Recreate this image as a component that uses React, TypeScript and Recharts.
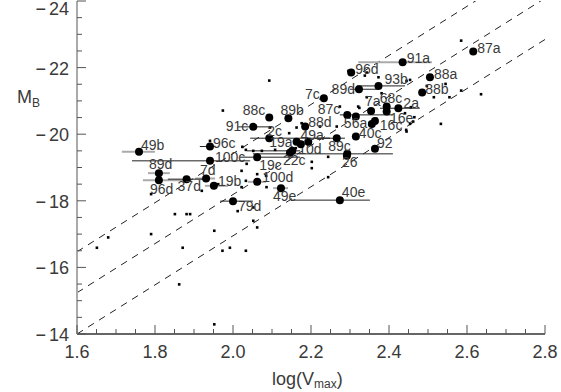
import { ScatterChart, Scatter, XAxis, YAxis, ReferenceLine } from "recharts"

// labelled galaxies: [label, log(Vmax), M_B]
const NAMED: [string, number, number][] = [
  ["49b", 1.759, -19.47],
  ["96c", 1.941, -19.63],
  ["100c", 1.941, -19.2],
  ["89d", 1.81, -18.83],
  ["96d", 1.81, -18.62],
  ["37d", 1.881, -18.65],
  ["7d", 1.931, -18.67],
  ["19b", 1.951, -18.45],
  ["79d", 2.0, -17.99],
  ["49e", 2.123, -18.38],
  ["40e", 2.274, -18.02],
  ["100d", 2.062, -18.57],
  ["19c", 2.062, -19.31],
  ["91c", 2.052, -20.22],
  ["2c", 2.093, -19.88],
  ["88c", 2.093, -20.5],
  ["89b", 2.142, -20.48],
  ["10d", 2.152, -19.5],
  ["22c", 2.146, -19.44],
  ["19a", 2.163, -19.77],
  ["", 2.174, -19.7],
  ["", 2.193, -19.77],
  ["88d", 2.185, -20.23],
  ["49a", 2.266, -19.88],
  ["40c", 2.315, -19.93],
  ["89c", 2.293, -19.41],
  ["26", 2.292, -19.35],
  ["92", 2.364, -19.56],
  ["7c", 2.233, -21.08],
  ["89d", 2.323, -21.35],
  ["96d", 2.303, -21.85],
  ["91a", 2.435, -22.16],
  ["93b", 2.373, -21.45],
  ["88a", 2.505, -21.71],
  ["88b", 2.485, -21.25],
  ["87a", 2.616, -22.48],
  ["2a", 2.424, -20.78],
  ["68c", 2.394, -20.83],
  ["", 2.394, -20.68],
  ["7a", 2.354, -20.7],
  ["87c", 2.293, -20.58],
  ["56a", 2.315, -20.53],
  ["16e", 2.364, -20.4],
  ["16c", 2.356, -20.31],
]

// where each label sits relative to its dot (same order as NAMED): [dx, dy, anchor]
const LABEL_PLACE: [number, number, string][] = [
  [2, -2, "start"], [3, 1, "start"], [5, 1, "start"], [-10, -4, "start"],
  [-9, 14, "start"], [-9, 12, "start"], [-6, -3, "start"], [4, 0, "start"],
  [5, 10, "start"], [-8, 13, "start"], [2, -3, "start"], [5, 0, "start"],
  [2, 13, "start"], [-5, 4, "end"], [-2, -2, "start"], [-4, -3, "end"],
  [-8, -3, "start"], [6, 3, "start"], [-7, 12, "start"], [-4, 5, "end"],
  [0, 0, "start"], [0, 0, "start"], [3, 0, "start"], [-13, 2, "end"],
  [3, 1, "start"], [-19, -3, "start"], [-5, 11, "start"], [2, -1, "start"],
  [-4, 1, "end"], [-4, 5, "end"], [4, 1, "start"], [4, 1, "start"],
  [6, -2, "start"], [4, 2, "start"], [3, 1, "start"], [4, 1, "start"],
  [5, 0, "start"], [-7, -4, "start"], [0, 0, "start"], [-6, -5, "start"],
  [-7, -1, "end"], [-12, 11, "start"], [15, 2, "start"], [8, 6, "start"],
]

// velocity ranges: [low, high, M_B]
const GRAY_BARS: [number, number, number][] = [
  [1.715, 1.8, -19.47],
  [1.782, 1.838, -18.83],
  [1.769, 1.882, -18.62],
  [1.903, 1.954, -18.67],
  [1.928, 1.987, -18.45],
  [2.103, 2.141, -18.38],
  [2.038, 2.085, -18.57],
  [2.321, 2.51, -22.16],
]

const BLACK_BARS: [number, number, number][] = [
  [1.915, 1.954, -19.63],
  [1.741, 2.044, -19.2],
  [1.833, 1.933, -18.65],
  [1.967, 2.051, -17.99],
  [2.149, 2.351, -18.02],
  [2.013, 2.1, -20.22],
  [2.044, 2.249, -19.88],
  [2.051, 2.41, -19.41],
  [2.018, 2.172, -19.31],
  [2.036, 2.172, -19.5],
  [2.318, 2.441, -21.45],
  [2.377, 2.479, -20.78],
  [2.274, 2.41, -20.58],
  [2.21, 2.287, -19.88],
  [2.3, 2.37, -21.35],
]

// unlabelled sample: [log(Vmax), M_B]
const FIELD: [number, number][] = [
  [1.651, -16.59], [1.68, -16.9], [1.851, -17.6], [1.881, -17.6], [1.89, -17.6],
  [1.79, -17.0], [1.952, -17.1], [2.012, -17.69], [2.052, -17.4], [2.062, -17.2],
  [1.871, -16.59], [1.973, -16.5], [1.992, -16.59], [2.033, -16.5], [1.862, -15.49],
  [1.952, -14.29], [1.79, -18.2], [1.941, -19.8], [2.024, -19.62], [2.033, -19.53],
  [2.022, -18.9], [2.033, -18.6], [1.92, -18.3], [1.962, -18.5], [2.052, -17.8],
  [2.022, -18.41], [1.974, -20.71], [2.035, -19.11], [2.074, -19.5], [2.062, -18.8],
  [2.085, -18.75], [2.095, -20.2], [2.163, -20.2], [2.161, -19.58], [2.108, -19.53],
  [2.086, -18.41], [2.144, -20.03], [2.052, -19.5], [2.144, -19.41], [2.202, -19.17],
  [2.202, -18.98], [2.244, -19.32], [2.244, -18.71], [2.176, -20.33], [2.223, -20.23],
  [2.266, -20.23], [2.321, -20.83], [2.368, -20.46], [2.441, -20.63], [2.454, -20.31],
  [2.445, -20.08], [2.462, -20.38], [2.093, -21.61], [2.343, -21.11], [2.274, -20.83],
  [2.324, -20.79], [2.381, -21.23], [2.373, -21.71], [2.296, -21.9], [2.343, -21.85],
  [2.585, -22.81], [2.454, -21.63], [2.545, -21.51], [2.515, -21.11], [2.555, -21.11],
  [2.585, -21.31], [2.636, -21.2], [2.497, -21.45], [2.456, -20.81], [2.465, -20.51],
  [2.533, -20.31], [2.444, -20.13], [2.338, -21.76], [2.445, -21.6],
]

// dashed relations: M_B at log V = 1.6, common slope
const LINE_ZERO = [-16.47, -15.24, -14.0]
const LINE_SLOPE = -7.37

const X_LABELS = [1.6, 1.8, 2.0, 2.2, 2.4, 2.6, 2.8]
const Y_LABELS = [-24, -22, -20, -18, -16, -14]
const X_TICKS = Array.from({ length: 25 }, (_, i) => +(1.6 + i * 0.05).toFixed(2))
const Y_TICKS = Array.from({ length: 21 }, (_, i) => -24 + i * 0.5)

const FONT = "'Liberation Sans', Arial, sans-serif"
const INK = "#3a3a3a"
const AXIS = "#555"

const namedData = NAMED.map(([name, x, y], i) => ({ name, x, y, place: LABEL_PLACE[i] }))
const fieldData = FIELD.map(([x, y]) => ({ x, y }))

const isLabelX = (v: number) => X_LABELS.some((l) => Math.abs(l - v) < 1e-6)
const isLabelY = (v: number) => Y_LABELS.some((l) => Math.abs(l - v) < 1e-6)

function BottomTick({ x, y, payload }: any) {
  const major = isLabelX(payload.value)
  return (
    <g>
      <line x1={x} x2={x} y1={y} y2={y - (major ? 9 : 5)} stroke={AXIS} />
      {major && (
        <text x={x} y={y + 24} textAnchor="middle" fontSize={18} fontFamily={FONT} fill={INK}>
          {payload.value.toFixed(1)}
        </text>
      )}
    </g>
  )
}

function TopTick({ x, y, payload }: any) {
  const major = isLabelX(payload.value)
  return <line x1={x} x2={x} y1={y} y2={y + (major ? 9 : 5)} stroke={AXIS} />
}

function LeftTick({ x, y, payload }: any) {
  const major = isLabelY(payload.value)
  return (
    <g>
      <line x1={x} x2={x + (major ? 9 : 5)} y1={y} y2={y} stroke={AXIS} />
      {major && (
        <text x={x - 8} y={Math.max(y + 7, 15)} textAnchor="end" fontSize={18} fontFamily={FONT} fill={INK}>
          <tspan>{"\u2212"}</tspan>
          <tspan dx={3}>{Math.abs(payload.value)}</tspan>
        </text>
      )}
    </g>
  )
}

function RightTick({ x, y, payload }: any) {
  const major = isLabelY(payload.value)
  return <line x1={x} x2={x - (major ? 9 : 5)} y1={y} y2={y} stroke={AXIS} />
}

function Galaxy({ cx, cy, payload }: any) {
  const [dx, dy, anchor] = payload.place
  return (
    <g>
      <circle cx={cx} cy={cy} r={4} fill="#000" />
      {payload.name && (
        <text x={cx + dx} y={cy + dy} textAnchor={anchor} fontSize={14} fontFamily={FONT} fill={INK}>
          {payload.name}
        </text>
      )}
    </g>
  )
}

function FieldDot({ cx, cy }: any) {
  return <rect x={cx - 1.3} y={cy - 1.3} width={2.6} height={2.6} fill="#000" />
}

export default function App() {
  return (
    <div style={{ position: "absolute", left: 0, top: 0, background: "#fff" }}>
      <ScatterChart width={561} height={392} margin={{ top: 1, right: 16, bottom: 0, left: 0 }}>
        <XAxis
          type="number"
          dataKey="x"
          domain={[1.6, 2.8]}
          allowDataOverflow
          ticks={X_TICKS}
          interval={0}
          height={58}
          tickSize={0}
          tickMargin={0}
          tickLine={false}
          tick={<BottomTick />}
          axisLine={{ stroke: "#333", strokeWidth: 1.5 }}
        />
        <XAxis
          xAxisId="top"
          orientation="top"
          type="number"
          domain={[1.6, 2.8]}
          allowDataOverflow
          ticks={X_TICKS}
          interval={0}
          height={0}
          tickSize={0}
          tickMargin={0}
          tickLine={false}
          tick={<TopTick />}
          axisLine={{ stroke: "#444" }}
        />
        <YAxis
          type="number"
          dataKey="y"
          domain={[-24, -14]}
          reversed
          allowDataOverflow
          ticks={Y_TICKS}
          interval={0}
          width={77}
          tickSize={0}
          tickMargin={0}
          tickLine={false}
          tick={<LeftTick />}
          axisLine={{ stroke: "#aaa", strokeWidth: 2 }}
        />
        <YAxis
          yAxisId="right"
          orientation="right"
          type="number"
          domain={[-24, -14]}
          reversed
          allowDataOverflow
          ticks={Y_TICKS}
          interval={0}
          width={0}
          tickSize={0}
          tickMargin={0}
          tickLine={false}
          tick={<RightTick />}
          axisLine={{ stroke: "#444" }}
        />

        {LINE_ZERO.map((m0, i) => (
          <ReferenceLine
            key={`rel${i}`}
            segment={[
              { x: 1.6, y: m0 },
              { x: 2.8, y: m0 + LINE_SLOPE * 1.2 },
            ]}
            ifOverflow="hidden"
            stroke="#222"
            strokeDasharray="7 6"
          />
        ))}
        {GRAY_BARS.map(([lo, hi, m], i) => (
          <ReferenceLine
            key={`g${i}`}
            segment={[
              { x: lo, y: m },
              { x: hi, y: m },
            ]}
            stroke="#aaa"
            strokeWidth={2}
          />
        ))}
        {BLACK_BARS.map(([lo, hi, m], i) => (
          <ReferenceLine
            key={`b${i}`}
            segment={[
              { x: lo, y: m },
              { x: hi, y: m },
            ]}
            stroke="#222"
            strokeWidth={1}
          />
        ))}

        <Scatter data={fieldData} shape={<FieldDot />} isAnimationActive={false} />
        <Scatter data={namedData} shape={<Galaxy />} isAnimationActive={false} />

        <text x={17} y={103} fontSize={18} fontFamily={FONT} fill={INK}>
          M<tspan fontSize={12} dy={4}>B</tspan>
        </text>
        <text x={272} y={385} fontSize={18} fontFamily={FONT} fill={INK}>
          log(V<tspan fontSize={12} dy={3}>max</tspan>
          <tspan dy={-3}>)</tspan>
        </text>
      </ScatterChart>
    </div>
  )
}
